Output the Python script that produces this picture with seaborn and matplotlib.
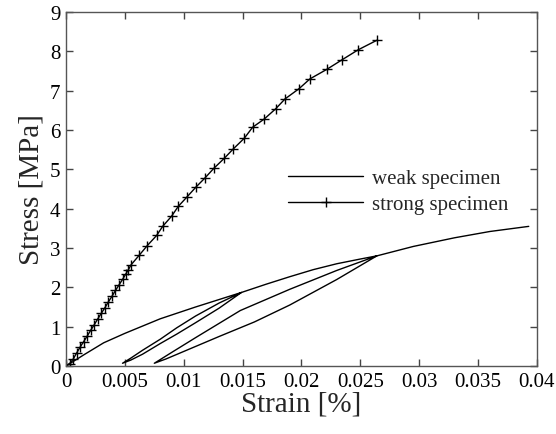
import matplotlib
matplotlib.use("Agg")
import matplotlib.pyplot as plt
import seaborn as sns
import numpy as np
import pandas as pd

# ---- data ----
strong_strain = [0, 0.0003, 0.0006, 0.0009, 0.0012, 0.0015, 0.0018, 0.0021, 0.0024,
                 0.0027, 0.0030, 0.0033, 0.0036, 0.0039, 0.0042, 0.0045, 0.0048,
                 0.0051, 0.0053, 0.00552, 0.0062, 0.0069, 0.0077, 0.00821, 0.00897,
                 0.00954, 0.01025, 0.01104, 0.0118, 0.01257, 0.01344, 0.01421,
                 0.01514, 0.01585, 0.01684, 0.01781, 0.0186, 0.01979, 0.02072,
                 0.02214, 0.02347, 0.02482, 0.02639]
strong_stress = [0, 0.06, 0.17, 0.33, 0.48, 0.62, 0.76, 0.91, 1.05,
                 1.20, 1.34, 1.48, 1.63, 1.77, 1.92, 2.06, 2.20,
                 2.35, 2.45, 2.57, 2.81, 3.06, 3.32, 3.55, 3.81,
                 4.06, 4.29, 4.55, 4.78, 5.03, 5.28, 5.52,
                 5.79, 6.07, 6.28, 6.54, 6.79, 7.05, 7.30,
                 7.54, 7.79, 8.04, 8.28]

env1_strain = [0, 0.0016, 0.0032, 0.005, 0.008, 0.011, 0.0149]
env1_stress = [0, 0.30, 0.59, 0.83, 1.20, 1.50, 1.87]
unload1_strain = [0.013, 0.011, 0.0094, 0.008, 0.0065, 0.0055, 0.0048]
unload1_stress = [1.47, 1.10, 0.81, 0.57, 0.30, 0.15, 0.07]
reload1_strain = [0.0055, 0.0065, 0.008, 0.0094, 0.011, 0.013, 0.0149]
reload1_stress = [0.20, 0.40, 0.68, 0.97, 1.27, 1.60, 1.87]
env2_strain = [0.017, 0.019, 0.021, 0.023, 0.025, 0.0264]
env2_stress = [2.08, 2.27, 2.45, 2.60, 2.72, 2.80]
unload2_strain = [0.023, 0.019, 0.016, 0.013, 0.010, 0.0085, 0.0075]
unload2_stress = [2.20, 1.55, 1.12, 0.75, 0.37, 0.18, 0.07]
reload2_strain = [0.009, 0.011, 0.0148, 0.019, 0.023, 0.0264]
reload2_stress = [0.35, 0.72, 1.41, 1.95, 2.43, 2.80]
env3_strain = [0.0295, 0.033, 0.036, 0.0393]
env3_stress = [3.04, 3.26, 3.42, 3.55]

weak_strain = (env1_strain + unload1_strain + reload1_strain + env2_strain
               + unload2_strain + reload2_strain + env3_strain)
weak_stress = (env1_stress + unload1_stress + reload1_stress + env2_stress
               + unload2_stress + reload2_stress + env3_stress)

x_ticks = [0, 0.005, 0.01, 0.015, 0.02, 0.025, 0.03, 0.035, 0.04]
x_tick_labels = ["0", "0.005", "0.01", "0.015", "0.02", "0.025", "0.03", "0.035", "0.04"]
y_ticks = list(range(0, 10))

weak_df = pd.DataFrame({"strain": weak_strain, "stress": weak_stress})
strong_df = pd.DataFrame({"strain": strong_strain, "stress": strong_stress})

sns.set_theme(style="white")
plt.rcParams["font.family"] = ["Liberation Serif", "DejaVu Serif"]

fig = plt.figure(figsize=(5.56, 4.35), dpi=100)
ax = fig.add_axes([0.1187, 0.1563, 0.8471, 0.8138])

sns.lineplot(data=weak_df, x="strain", y="stress", sort=False, estimator=None,
             color="black", linewidth=1.0, ax=ax, label="weak specimen")
sns.lineplot(data=strong_df, x="strain", y="stress", sort=False, estimator=None,
             color="black", linewidth=1.0, marker="+", markersize=7,
             markeredgewidth=1.0, markeredgecolor="black", ax=ax,
             label="strong specimen")

ax.set_xlim(0, 0.04)
ax.set_ylim(0, 9)
ax.set_xticks(x_ticks)
ax.set_xticklabels(x_tick_labels)
ax.set_yticks(y_ticks)
ax.tick_params(direction="in", length=5, width=1, colors="#444444",
               labelcolor="black", labelsize=15, top=True, right=True,
               bottom=True, left=True, pad=4)
for s in ax.spines.values():
    s.set_color("#555555")
    s.set_linewidth(1.0)
    s.set_visible(True)

ax.set_xlabel("Strain [%]", fontsize=21, labelpad=0)
ax.set_ylabel("Stress [MPa]", fontsize=21, labelpad=4)

ax.legend(loc="upper left", bbox_to_anchor=(0.432, 0.61), frameon=False,
          fontsize=15, handlelength=3.6, handletextpad=0.4, labelspacing=0.3)

fig.savefig("out.png", dpi=100)
